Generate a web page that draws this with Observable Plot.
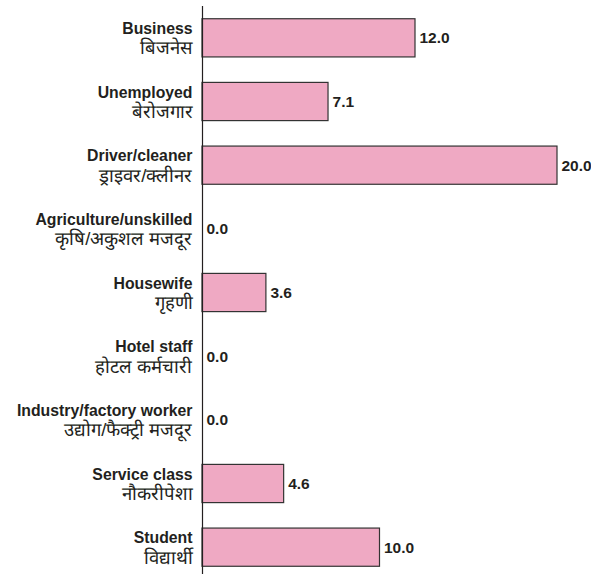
<!DOCTYPE html>
<html>
<head>
<meta charset="utf-8">
<script src="https://cdn.jsdelivr.net/npm/d3@7"></script>
<script src="https://cdn.jsdelivr.net/npm/@observablehq/plot@0.6"></script>
<style>
  html, body { margin: 0; padding: 0; background: #fff; }
  #chart svg { display: block; }
</style>
</head>
<body>
<div id="chart"></div>
<script>
const english = ["Business", "Unemployed", "Driver/cleaner", "Agriculture/unskilled", "Housewife", "Hotel staff", "Industry/factory worker", "Service class", "Student"];
const hindi = ["बिजनेस", "बेरोजगार", "ड्राइवर/क्लीनर", "कृषि/अकुशल मजदूर", "गृहणी", "होटल कर्मचारी", "उद्योग/फैक्ट्री मजदूर", "नौकरीपेशा", "विद्यार्थी"];
const values = [12.0, 7.1, 20.0, 0.0, 3.6, 0.0, 0.0, 4.6, 10.0];

const data = english.map((e, i) => ({en: e, hi: hindi[i], v: values[i]}));

const ink = "#231f20";
const chart = Plot.plot({
  width: 591,
  height: 579,
  marginLeft: 202,
  marginRight: 34,
  marginTop: 6,
  marginBottom: 0,
  style: {fontFamily: "Liberation Sans, Arial, sans-serif", background: "#fff"},
  x: {domain: [0, 20], axis: null},
  y: {domain: english, axis: null, paddingInner: 0.4, paddingOuter: 0.2, round: false},
  marks: [
    Plot.barX(data, {y: "en", x: "v", fill: "#efa9c3", stroke: "#333", strokeWidth: 1.2, filter: d => d.v > 0}),
    Plot.ruleX([0], {stroke: ink, strokeWidth: 1.2}),
    Plot.text(data, {y: "en", frameAnchor: "left", text: "en", dx: -10, dy: -9.5, textAnchor: "end", fontWeight: "bold", fontSize: 15.8, fill: ink}),
    Plot.text(data, {y: "en", frameAnchor: "left", text: "hi", dx: -10, dy: 10, textAnchor: "end", fontSize: 18.5, fill: ink}),
    Plot.text(data, {y: "en", x: "v", text: d => d.v.toFixed(1), dx: 4, textAnchor: "start", fontWeight: "bold", fontSize: 15.5, fill: ink})
  ]
});
document.getElementById("chart").appendChild(chart);
</script>
</body>
</html>
